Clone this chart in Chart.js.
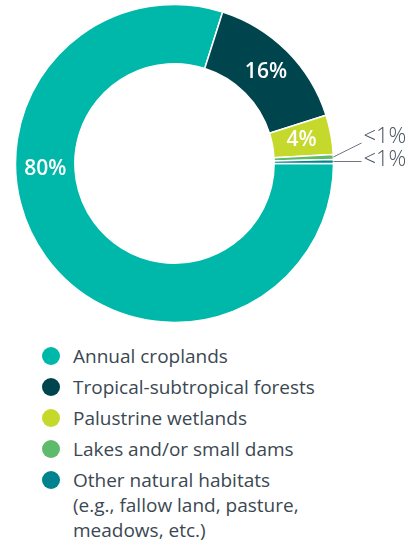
<!DOCTYPE html>
<html>
<head>
<meta charset="utf-8">
<script src="https://cdn.jsdelivr.net/npm/chart.js@4.4.1/dist/chart.umd.min.js"></script>
<style>
  html, body { margin: 0; padding: 0; background: #fff; }
  body { width: 412px; height: 546px; position: relative; overflow: hidden; font-family: "Open Sans", sans-serif; }
  #wrap { position: absolute; left: 0; top: 0; width: 412px; height: 330px; }
  #legend { position: absolute; left: 42px; top: 344px; margin: 0; padding: 0; list-style: none; }
  #legend li { position: relative; padding-left: 31px; font-size: 19px; line-height: 25px; color: #3b4852; margin-bottom: 6px; white-space: nowrap; }
  #legend .dot { position: absolute; left: 0; top: 3px; width: 18px; height: 18px; border-radius: 50%; }
</style>
</head>
<body>
<div id="wrap"><canvas id="donut"></canvas></div>
<ul id="legend"></ul>

<script>
// Data (share of area, %)
const categories = [
  "Annual croplands",
  "Tropical-subtropical forests",
  "Palustrine wetlands",
  "Lakes and/or small dams",
  ["Other natural habitats", "(e.g., fallow land, pasture,", "meadows, etc.)"]
];
const shares = [79.9, 15.2, 4.0, 0.5, 0.4];
const shareLabels = ["80%", "16%", "4%", "<1%", "<1%"];
const colors = ["#00b8a9", "#00444e", "#c5d92d", "#5dbb6b", "#00838f"];

// small slices get an outside label with a leader line
const outside = [false, false, false, true, true];
const calloutDy = [0, 0, 0, -14, 0];      // leader end, relative to slice edge point
const calloutTextDy = [0, 0, 0, -6, -2];
// 80% label sits at the left of the ring instead of the slice middle
const labelAngleDeg = [177.5, null, null, null, null];

const sliceLabels = {
  id: "sliceLabels",
  afterDatasetsDraw(chart) {
    const ctx = chart.ctx;
    const meta = chart.getDatasetMeta(0);
    meta.data.forEach((arc, i) => {
      const p = arc.getProps(["x", "y", "startAngle", "endAngle", "innerRadius", "outerRadius"], true);
      const mid = (p.startAngle + p.endAngle) / 2;
      ctx.save();
      if (!outside[i]) {
        const a = labelAngleDeg[i] != null ? labelAngleDeg[i] * Math.PI / 180 : mid;
        const r = (p.innerRadius + p.outerRadius) / 2;
        ctx.fillStyle = "#fff";
        ctx.font = '600 21px "Open Sans"';
        ctx.textAlign = "center";
        ctx.textBaseline = "middle";
        ctx.fillText(shareLabels[i], p.x + Math.cos(a) * r, p.y + Math.sin(a) * r);
      } else {
        const sx = p.x + Math.cos(mid) * p.outerRadius;
        const sy = p.y + Math.sin(mid) * p.outerRadius;
        const ex = p.x + p.outerRadius + 28;
        const ey = sy + calloutDy[i];
        ctx.strokeStyle = "#6f767d";
        ctx.lineWidth = 1;
        ctx.beginPath();
        ctx.moveTo(sx, sy);
        ctx.lineTo(ex, ey);
        ctx.stroke();
        ctx.fillStyle = "#4a5660";
        ctx.font = '300 22px "Open Sans"';
        ctx.textAlign = "left";
        ctx.textBaseline = "middle";
        ctx.fillText(shareLabels[i], ex + 2, ey + calloutTextDy[i]);
      }
      ctx.restore();
    });
  }
};

new Chart(document.getElementById("donut"), {
  type: "doughnut",
  data: {
    labels: categories.map(c => Array.isArray(c) ? c.join(" ") : c),
    datasets: [{
      data: shares,
      backgroundColor: colors,
      borderColor: "#fff",
      borderWidth: 1.5,
      hoverOffset: 0
    }]
  },
  options: {
    responsive: true,
    maintainAspectRatio: false,
    animation: false,
    rotation: 90,
    radius: 159,
    cutout: 102,
    layout: { padding: { left: 0, right: 63, top: 0, bottom: 3 } },
    plugins: {
      legend: { display: false },
      tooltip: { enabled: false }
    }
  },
  plugins: [sliceLabels]
});

// legend
const legend = document.getElementById("legend");
categories.forEach((c, i) => {
  const li = document.createElement("li");
  const dot = document.createElement("span");
  dot.className = "dot";
  dot.style.background = colors[i];
  li.appendChild(dot);
  const lines = Array.isArray(c) ? c : [c];
  lines.forEach((t, k) => {
    if (k > 0) li.appendChild(document.createElement("br"));
    li.appendChild(document.createTextNode(t));
  });
  legend.appendChild(li);
});
</script>
</body>
</html>
